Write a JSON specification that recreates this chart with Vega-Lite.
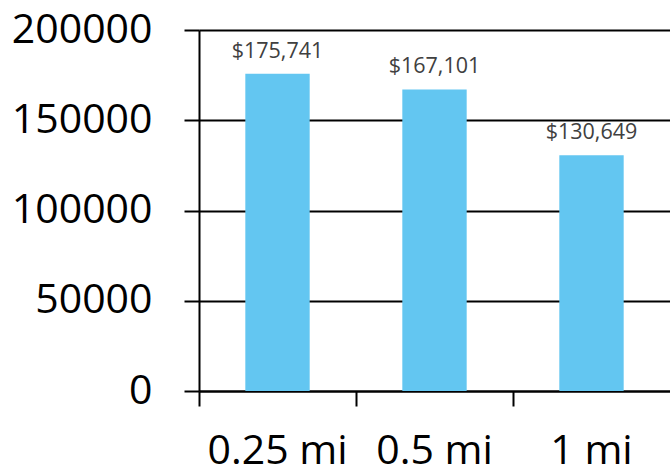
{
  "$schema": "https://vega.github.io/schema/vega-lite/v6.json",
  "autosize": {"type": "none"},
  "padding": {"left": 199, "top": 30, "right": 0, "bottom": 84},
  "width": 471,
  "height": 361,
  "background": "white",
  "config": {"view": {"stroke": null}, "font": "Open Sans"},
  "data": {"values": [
    {"distance": "0.25 mi", "value": 175741, "label": "$175,741"},
    {"distance": "0.5 mi", "value": 167101, "label": "$167,101"},
    {"distance": "1 mi", "value": 130649, "label": "$130,649"}
  ]},
  "encoding": {
    "x": {"field": "distance", "type": "nominal", "sort": null,
      "scale": {"paddingInner": 0, "paddingOuter": 0},
      "axis": {"title": null, "labelAngle": 0, "labelFontSize": 41, "labelColor": "black",
        "labelFont": "Open Sans", "labelPadding": 25, "tickSize": 15, "tickColor": "black",
        "tickWidth": 2, "bandPosition": 0, "domainColor": "black", "domainWidth": 2, "grid": false}},
    "y": {"field": "value", "type": "quantitative",
      "scale": {"domain": [0, 200000], "nice": false},
      "axis": {"title": null, "values": [0, 50000, 100000, 150000, 200000], "format": "d",
        "labelFontSize": 41, "labelColor": "black", "labelFont": "Open Sans", "labelPadding": 32,
        "tickSize": 15, "tickColor": "black", "tickWidth": 2,
        "domainColor": "black", "domainWidth": 2,
        "grid": true, "gridColor": "black", "gridWidth": 2, "gridOpacity": 1}}
  },
  "layer": [
    {"mark": {"type": "bar", "color": "#63C6F1", "width": {"band": 0.41}}},
    {"mark": {"type": "text", "baseline": "alphabetic", "dy": -16, "fontSize": 21.5, "color": "#404040", "font": "Open Sans"},
      "encoding": {"text": {"field": "label"}}}
  ]
}
